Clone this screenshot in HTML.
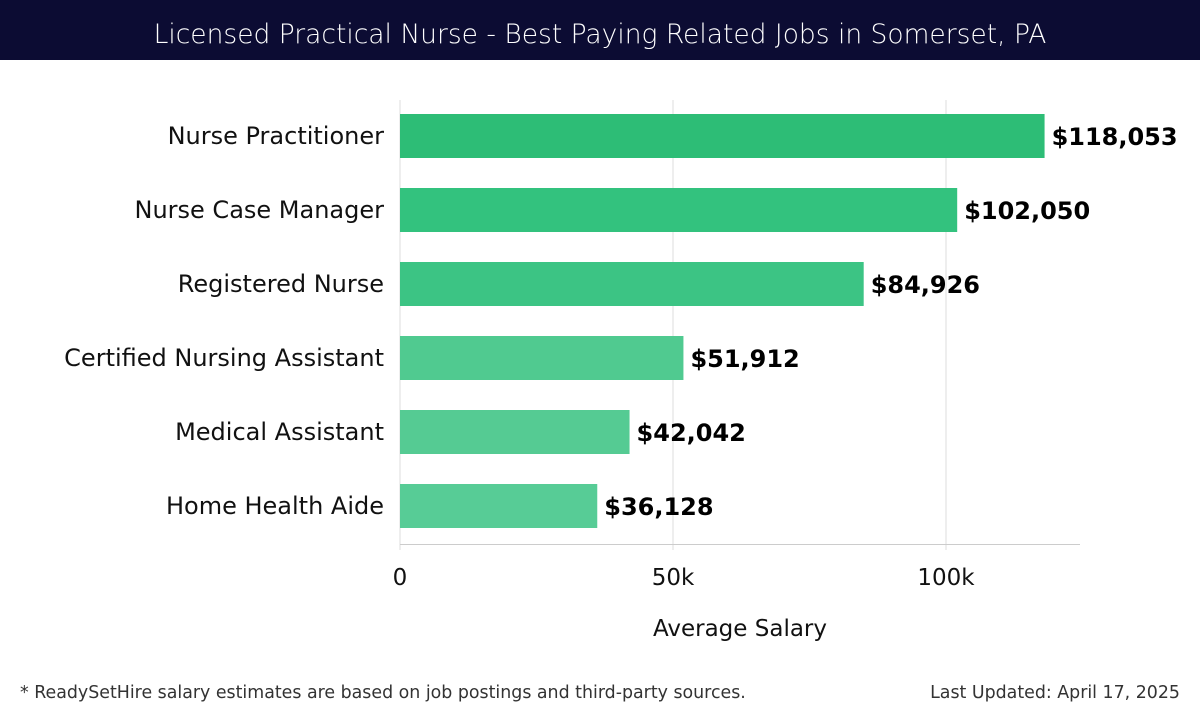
<!DOCTYPE html>
<html><head><meta charset="utf-8"><style>
body{margin:0;width:1200px;height:720px;background:#fff;font-family:"Liberation Sans","DejaVu Sans",sans-serif;overflow:hidden}
</style></head><body>
<svg width="1200" height="720" xmlns="http://www.w3.org/2000/svg">
<rect x="0" y="0" width="1200" height="60" fill="#0c0c33"/>
<text x="600" y="43" text-anchor="middle" fill="#fff" font-size="26.5" font-family="DejaVu Sans, sans-serif" font-weight="300">Licensed Practical Nurse - Best Paying Related Jobs in Somerset, PA</text>
<g id="grid"></g><g id="bars"></g>
<text x="740" y="636" text-anchor="middle" font-size="23" fill="#111" font-family="DejaVu Sans, sans-serif">Average Salary</text>
<text x="20" y="698" font-size="17.4" fill="#333" font-family="DejaVu Sans, sans-serif">* ReadySetHire salary estimates are based on job postings and third-party sources.</text>
<text x="1180" y="698" text-anchor="end" font-size="17.4" fill="#333" font-family="DejaVu Sans, sans-serif">Last Updated: April 17, 2025</text>
</svg>
<script>
const categories=["Nurse Practitioner","Nurse Case Manager","Registered Nurse","Certified Nursing Assistant","Medical Assistant","Home Health Aide"];
const values=[118053,102050,84926,51912,42042,36128];
const valueLabels=["$118,053","$102,050","$84,926","$51,912","$42,042","$36,128"];
const tickValues=[0,50000,100000];
const tickLabels=["0","50k","100k"];
const colors=["#2dbd76","#33c27e","#3cc484","#50ca90","#55cb93","#57cc96"];
const NS="http://www.w3.org/2000/svg";
const x=v=>400+v*(546/100000);
const y=i=>136+i*74;
function mk(t,a,p){const e=document.createElementNS(NS,t);for(const k in a)e.setAttribute(k,a[k]);p.appendChild(e);return e;}
const g=document.getElementById('grid'),b=document.getElementById('bars');
tickValues.forEach((v,i)=>{
 const l=mk('line',{x1:x(v),x2:x(v),y1:100,y2:550,stroke:'#ddd','stroke-width':1},g);
 
 
 const t=mk('text',{x:x(v),y:585,'text-anchor':'middle','font-size':23,fill:'#111','font-family':'DejaVu Sans, sans-serif'},g);
 t.textContent=tickLabels[i];
 
 
});
const ax=mk('line',{x1:400,x2:1080,y1:544.5,y2:544.5,stroke:'#ccc','stroke-width':1},g);


categories.forEach((c,i)=>{
 const r=mk('rect',{x:400,y:y(i)-22,width:x(values[i])-400,height:44,fill:colors[i]},b);
 
 
 const lt=mk('text',{x:384,y:y(i)+8,'text-anchor':'end','font-size':24,fill:'#111','font-family':'DejaVu Sans, sans-serif'},b);
 lt.textContent=c;
 
 
 const vt=mk('text',{x:x(values[i])+7,y:y(i)+9,'font-size':24,'font-weight':'bold',fill:'#000','font-family':'DejaVu Sans, sans-serif'},b);
 vt.textContent=valueLabels[i];
 
 
});
</script>
</body></html>
